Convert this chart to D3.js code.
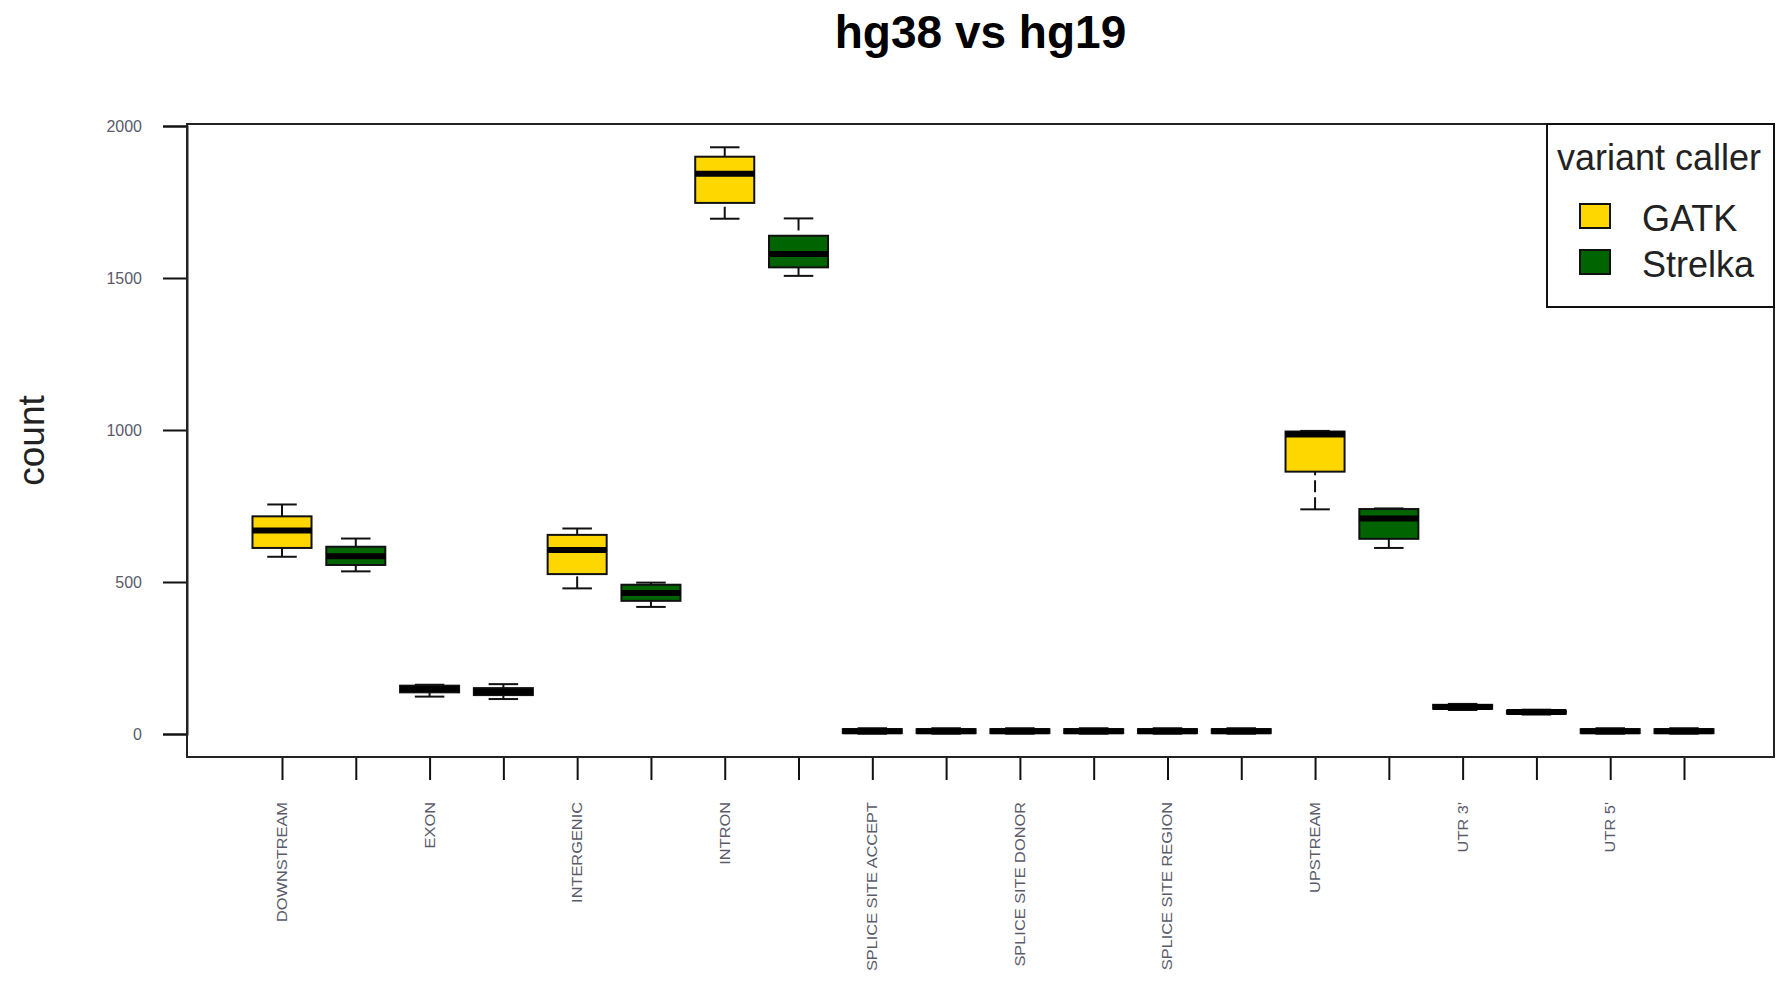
<!DOCTYPE html>
<html>
<head>
<meta charset="utf-8">
<script src="https://cdn.jsdelivr.net/npm/d3@7"></script>
<style>
  html, body { margin: 0; padding: 0; background: #fff; }
  svg { display: block; font-family: "Liberation Sans", Arial, sans-serif; }
</style>
</head>
<body>
<svg id="chart" width="1776" height="982"></svg>
<script>
// Genomic regions on the x axis
const regions = ["DOWNSTREAM", "EXON", "INTERGENIC", "INTRON", "SPLICE SITE ACCEPT",
  "SPLICE SITE DONOR", "SPLICE SITE REGION", "UPSTREAM", "UTR 3'", "UTR 5'"];
const callers = ["GATK", "Strelka"];
const callerColors = ["#FFD700", "#006400"];
const yTicks = [0, 500, 1000, 1500, 2000];

// Five-number summaries per region (whisker low, Q1, median, Q3, whisker high)
const gatkLow    = [583, 123, 479, 1695, 1, 1, 1, 739, 79, 1];
const gatkQ1     = [612, 137, 526, 1747, 3, 3, 3, 863, 83, 3];
const gatkMedian = [669, 148, 605, 1843, 9, 9, 9, 985, 89, 9];
const gatkQ3     = [716, 159, 655, 1899, 16, 16, 16, 995, 96, 16];
const gatkHigh   = [755, 162, 676, 1930, 19, 19, 19, 997, 99, 19];

const strelkaLow    = [535, 115, 418, 1507, 1, 1, 1, 612, 64, 1];
const strelkaQ1     = [556, 128, 438, 1535, 3, 3, 3, 642, 67, 3];
const strelkaMedian = [585, 139, 464, 1579, 9, 9, 9, 709, 72, 9];
const strelkaQ3     = [616, 151, 491, 1639, 16, 16, 16, 740, 77, 16];
const strelkaHigh   = [643, 164, 498, 1696, 19, 19, 19, 742, 80, 19];

const svg = d3.select("#chart");

const frame = { left: 187, right: 1774, top: 124, bottom: 757 };
const nSlots = regions.length * callers.length;

const x = d3.scaleLinear().domain([1, nSlots]).range([282, 1684]);
const y = d3.scaleLinear().domain([0, 2000]).range([734, 126]);
const unit = x(2) - x(1);
const boxW = 0.8 * unit;
const capW = 0.5 * boxW;

// Build one record per box
const stats = [
  [gatkLow, gatkQ1, gatkMedian, gatkQ3, gatkHigh],
  [strelkaLow, strelkaQ1, strelkaMedian, strelkaQ3, strelkaHigh]
];
const boxes = [];
regions.forEach((r, i) => {
  callers.forEach((c, k) => {
    const s = stats[k];
    boxes.push({
      region: r, caller: c, color: callerColors[k], pos: i * 2 + k + 1,
      low: s[0][i], q1: s[1][i], med: s[2][i], q3: s[3][i], high: s[4][i]
    });
  });
});

// Title
svg.append("text")
  .attr("x", (frame.left + frame.right) / 2).attr("y", 48)
  .attr("text-anchor", "middle")
  .attr("font-size", 46).attr("font-weight", "bold").attr("fill", "#000")
  .text("hg38 vs hg19");

// Y axis
const yAxis = svg.append("g")
  .attr("transform", `translate(${frame.left},0)`)
  .call(d3.axisLeft(y).tickValues(yTicks).tickFormat(d3.format("d")).tickSize(24).tickPadding(21));
yAxis.select(".domain").attr("stroke", "#222").attr("stroke-width", 2);
yAxis.selectAll(".tick line").attr("stroke", "#111").attr("stroke-width", 2);
yAxis.selectAll(".tick text")
  .attr("font-size", 16).attr("fill", "#5a5a6a")
  .attr("font-family", "\"Liberation Sans\", Arial, sans-serif");

// X axis ticks
const xAxis = svg.append("g")
  .attr("transform", `translate(0,${frame.bottom})`)
  .call(d3.axisBottom(x).tickValues(d3.range(1, nSlots + 1)).tickSize(23).tickFormat(""));
xAxis.select(".domain").remove();
xAxis.selectAll(".tick line").attr("stroke", "#111").attr("stroke-width", 2);

// Rotated region labels under the GATK slot of each pair
svg.append("g").selectAll("text")
  .data(regions)
  .join("text")
  .attr("transform", (d, i) => `translate(${x(i * 2 + 1) + 5},802) rotate(-90) scale(1.17,1)`)
  .attr("text-anchor", "end")
  .attr("font-size", 14).attr("fill", "#5a5a6a")
  .text(d => d);

// Axis title
svg.append("text")
  .attr("transform", `translate(44,${(frame.top + frame.bottom) / 2}) rotate(-90)`)
  .attr("text-anchor", "middle")
  .attr("font-size", 37).attr("fill", "#222")
  .text("count");

// Boxes
const g = svg.append("g");
const bx = g.selectAll("g.box").data(boxes).join("g").attr("class", "box");

// dashed whiskers drawn from the whisker end towards the box
bx.append("line")
  .attr("x1", d => x(d.pos)).attr("x2", d => x(d.pos))
  .attr("y1", d => y(d.low)).attr("y2", d => y(d.q1))
  .attr("stroke", "#111").attr("stroke-width", 2).attr("stroke-dasharray", "12,5");
bx.append("line")
  .attr("x1", d => x(d.pos)).attr("x2", d => x(d.pos))
  .attr("y1", d => y(d.high)).attr("y2", d => y(d.q3))
  .attr("stroke", "#111").attr("stroke-width", 2).attr("stroke-dasharray", "12,5");
// staples
bx.append("line")
  .attr("x1", d => x(d.pos) - capW / 2).attr("x2", d => x(d.pos) + capW / 2)
  .attr("y1", d => y(d.low)).attr("y2", d => y(d.low))
  .attr("stroke", "#111").attr("stroke-width", 2);
bx.append("line")
  .attr("x1", d => x(d.pos) - capW / 2).attr("x2", d => x(d.pos) + capW / 2)
  .attr("y1", d => y(d.high)).attr("y2", d => y(d.high))
  .attr("stroke", "#111").attr("stroke-width", 2);
// box body
bx.append("rect")
  .attr("x", d => x(d.pos) - boxW / 2).attr("width", boxW)
  .attr("y", d => y(d.q3)).attr("height", d => y(d.q1) - y(d.q3))
  .attr("fill", d => d.color).attr("stroke", "#111").attr("stroke-width", 2);
// median
bx.append("line")
  .attr("x1", d => x(d.pos) - boxW / 2).attr("x2", d => x(d.pos) + boxW / 2)
  .attr("y1", d => y(d.med)).attr("y2", d => y(d.med))
  .attr("stroke", "#000").attr("stroke-width", 6);

// Plot frame
svg.append("rect")
  .attr("x", frame.left).attr("y", frame.top)
  .attr("width", frame.right - frame.left).attr("height", frame.bottom - frame.top)
  .attr("fill", "none").attr("stroke", "#222").attr("stroke-width", 2);

// Legend
const lg = svg.append("g");
lg.append("rect")
  .attr("x", 1547).attr("y", frame.top).attr("width", frame.right - 1547).attr("height", 307 - frame.top)
  .attr("fill", "#fff").attr("stroke", "#111").attr("stroke-width", 2);
lg.append("text")
  .attr("x", 1659).attr("y", 170).attr("text-anchor", "middle")
  .attr("font-size", 36).attr("fill", "#222")
  .text("variant caller");
const items = lg.selectAll("g.item").data(callers).join("g").attr("class", "item")
  .attr("transform", (d, i) => `translate(0,${i * 46})`);
items.append("rect")
  .attr("x", 1580).attr("y", 204).attr("width", 30).attr("height", 24)
  .attr("fill", (d, i) => callerColors[i]).attr("stroke", "#111").attr("stroke-width", 2);
items.append("text")
  .attr("x", 1642).attr("y", 231)
  .attr("font-size", 36).attr("fill", "#222")
  .text(d => d);
</script>
</body>
</html>
